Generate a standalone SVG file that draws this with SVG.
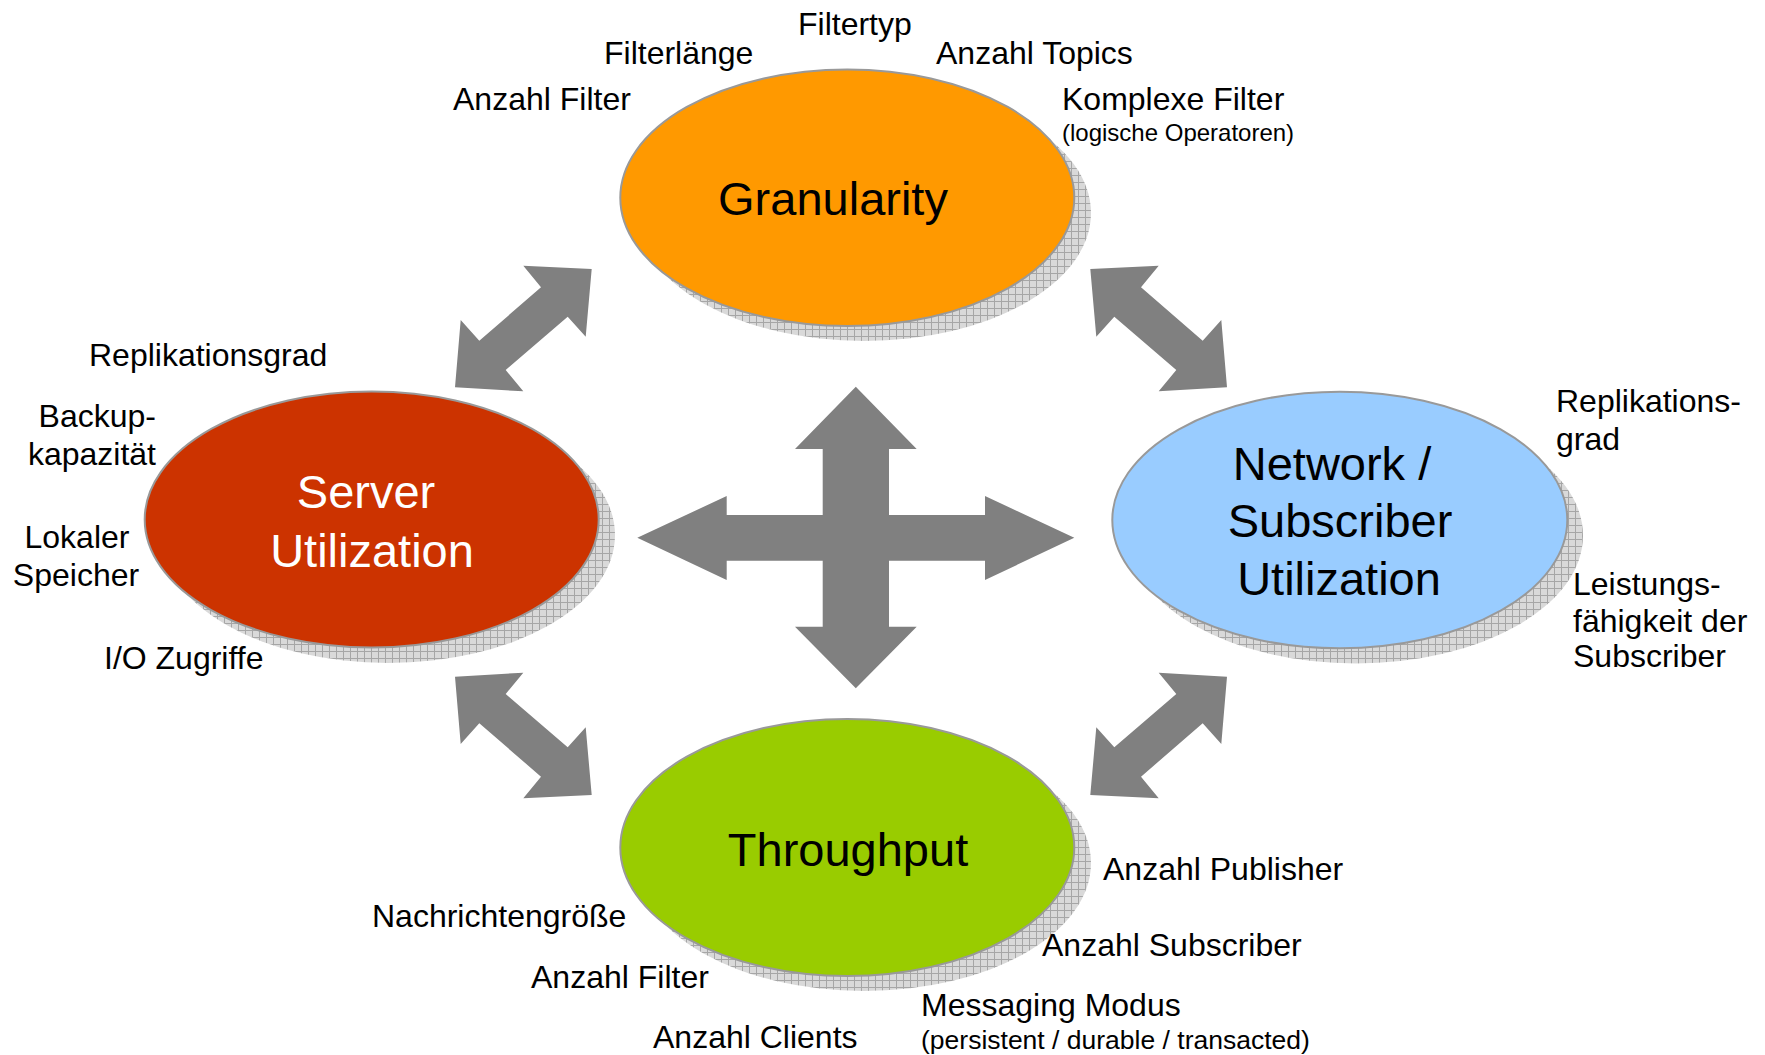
<svg xmlns="http://www.w3.org/2000/svg" width="1765" height="1055" viewBox="0 0 1765 1055">
  <defs>
    <!-- grid hatch used for the drop shadows under the ellipses -->
    <pattern id="hatch" patternUnits="userSpaceOnUse" width="7" height="7">
      <rect width="7" height="7" fill="#d9d9d9"/>
      <path d="M0 0.5H7M0.5 0V7" stroke="#a6a6a6" stroke-width="1"/>
    </pattern>
    <!-- diagonal double arrow (upper-left instance); others are mirrored copies -->
    <polygon id="diag" points="591.7,269 585.7,336.7 567.7,316.7 505.7,370 523.3,391.3 455,387.3 460.7,320 479.3,340.7 541,287.3 523.3,265.7"/>
  </defs>
  <style>
    .shadow { fill: url(#hatch); }
    .ell { stroke: #999999; stroke-width: 2; }
    .big { font-family: "Liberation Sans", Arial, sans-serif; font-size: 47px; text-anchor: middle; }
    .lbl { font-family: "Liberation Sans", Arial, sans-serif; font-size: 32px; fill: #000; }
    .sm { font-family: "Liberation Sans", Arial, sans-serif; font-size: 24px; fill: #000; }
    .arrow { fill: #808080; }
  </style>
  <rect width="1765" height="1055" fill="#ffffff"/>

  <!-- connectors -->
  <g id="connectors" class="arrow">
    <use href="#diag"/>
    <use href="#diag" transform="translate(1682,0) scale(-1,1)"/>
    <use href="#diag" transform="translate(0,1064) scale(1,-1)"/>
    <use href="#diag" transform="translate(1682,1064) scale(-1,-1)"/>
    <polygon points="855.8,386.7 916.7,449 889,449 889,515 985,515 985,496 1074.3,537.8 985,580 985,560.7 889,560.7 889,626.7 916.7,626.7 855.8,688.3 795,626.7 822.7,626.7 822.7,560.7 726.7,560.7 726.7,580 637.3,537.8 726.7,496 726.7,515 822.7,515 822.7,449 795,449"/>
  </g>

  <!-- Granularity -->
  <g id="granularity">
    <ellipse class="shadow" cx="864" cy="213" rx="227" ry="128"/>
    <ellipse class="ell" cx="847.3" cy="197.7" rx="227" ry="128.3" fill="#ff9900"/>
    <text class="big" x="833" y="215" fill="#000">Granularity</text>
  </g>

  <!-- Server Utilization -->
  <g id="server">
    <ellipse class="shadow" cx="388" cy="535" rx="227" ry="128"/>
    <ellipse class="ell" cx="371.7" cy="519.5" rx="227" ry="128" fill="#cc3300"/>
    <text class="big" fill="#ffffff"><tspan x="366" y="508.3">Server</tspan><tspan x="372" y="566.7">Utilization</tspan></text>
  </g>

  <!-- Network / Subscriber Utilization -->
  <g id="network">
    <ellipse class="shadow" cx="1356" cy="535.5" rx="227" ry="128"/>
    <ellipse class="ell" cx="1339.8" cy="520" rx="227.5" ry="128.3" fill="#99ccff"/>
    <text class="big" fill="#000"><tspan x="1332" y="480">Network /</tspan><tspan x="1340" y="537.3">Subscriber</tspan><tspan x="1339" y="595">Utilization</tspan></text>
  </g>

  <!-- Throughput -->
  <g id="throughput">
    <ellipse class="shadow" cx="864" cy="863" rx="227" ry="128"/>
    <ellipse class="ell" cx="847.3" cy="847.5" rx="227" ry="128.5" fill="#99cc00"/>
    <text class="big" x="848" y="865.7" fill="#000">Throughput</text>
  </g>

  <!-- factor labels -->
  <g id="labels-granularity">
    <text class="lbl" x="798" y="35">Filtertyp</text>
    <text class="lbl" x="604" y="64">Filterlänge</text>
    <text class="lbl" x="936" y="64">Anzahl Topics</text>
    <text class="lbl" x="453" y="110">Anzahl Filter</text>
    <text class="lbl" x="1062" y="110">Komplexe Filter</text>
    <text class="sm" x="1062" y="141">(logische Operatoren)</text>
  </g>
  <g id="labels-server">
    <text class="lbl" x="89" y="366">Replikationsgrad</text>
    <text class="lbl" x="156" y="427" text-anchor="end">Backup-</text>
    <text class="lbl" x="156" y="465" text-anchor="end">kapazität</text>
    <text class="lbl" x="77" y="548" text-anchor="middle">Lokaler</text>
    <text class="lbl" x="76" y="586" text-anchor="middle">Speicher</text>
    <text class="lbl" x="104" y="669">I/O Zugriffe</text>
  </g>
  <g id="labels-network">
    <text class="lbl" x="1556" y="412">Replikations-</text>
    <text class="lbl" x="1556" y="450">grad</text>
    <text class="lbl" x="1573" y="595">Leistungs-</text>
    <text class="lbl" x="1573" y="632">fähigkeit der</text>
    <text class="lbl" x="1573" y="667">Subscriber</text>
  </g>
  <g id="labels-throughput">
    <text class="lbl" x="1103" y="880">Anzahl Publisher</text>
    <text class="lbl" x="372" y="927">Nachrichtengröße</text>
    <text class="lbl" x="1042" y="956">Anzahl Subscriber</text>
    <text class="lbl" x="531" y="988">Anzahl Filter</text>
    <text class="lbl" x="921" y="1016">Messaging Modus</text>
    <text class="sm" x="921" y="1049" style="font-size:26.5px">(persistent / durable / transacted)</text>
    <text class="lbl" x="653" y="1048">Anzahl Clients</text>
  </g>
</svg>
